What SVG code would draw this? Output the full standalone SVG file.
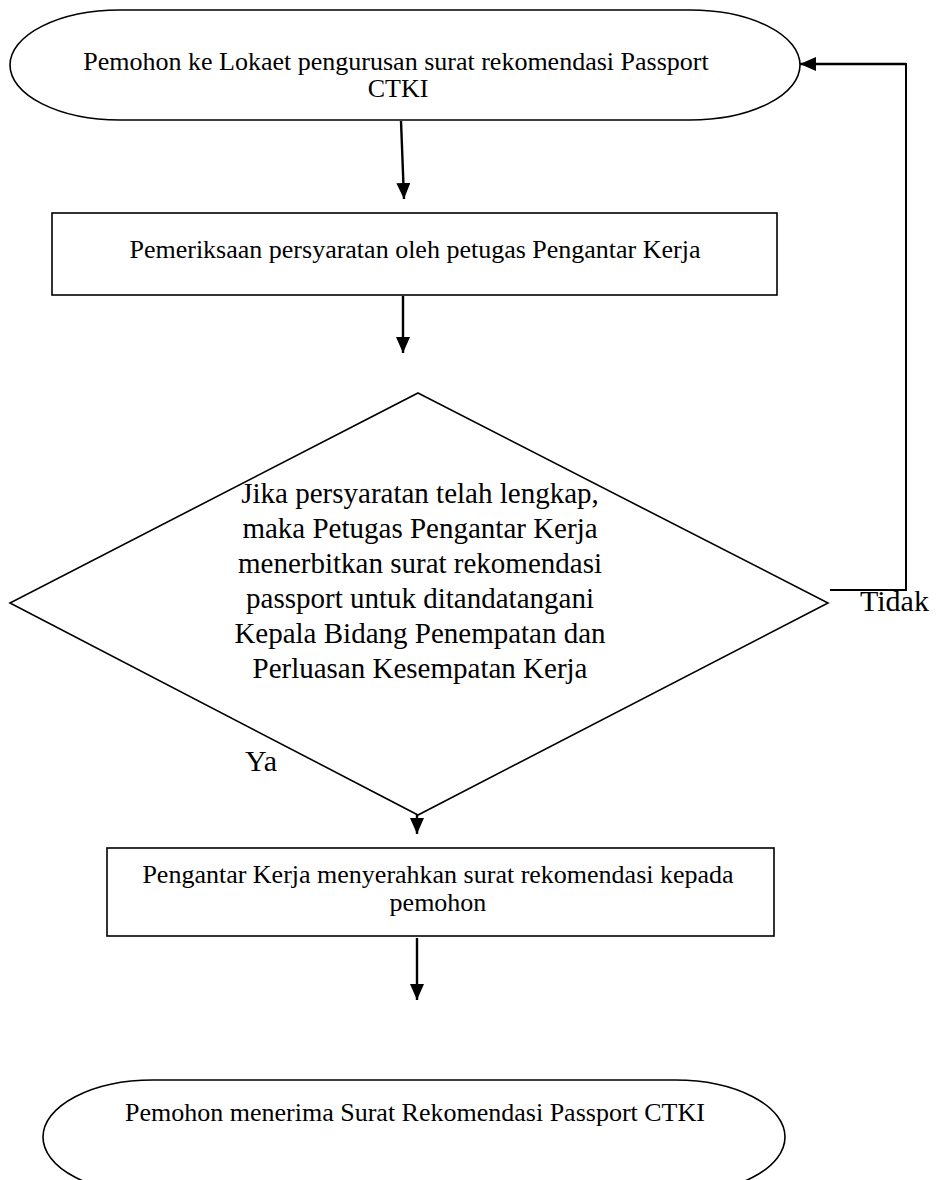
<svg xmlns="http://www.w3.org/2000/svg" width="946" height="1180" viewBox="0 0 946 1180">
  <style>
    .shape { fill: #ffffff; stroke: #000000; stroke-width: 1.6; }
    .flow { fill: none; stroke: #000000; stroke-width: 2.4; }
    .plain { fill: none; stroke: #000000; stroke-width: 2; }
    .t { font-family: "Liberation Serif", "Times New Roman", serif; fill: #000000; text-anchor: middle; }
    .box { font-size: 26px; }
    .big { font-size: 29px; }
    .lbl { font-family: "Liberation Serif", "Times New Roman", serif; fill: #000000; font-size: 30px; }
  </style>
  <defs>
    <marker id="head" viewBox="0 0 16 14" refX="16" refY="7" markerWidth="16" markerHeight="14" markerUnits="userSpaceOnUse" orient="auto">
      <path d="M0,0 L16,7 L0,14 Z" fill="#000000"/>
    </marker>
  </defs>

  <rect width="946" height="1180" fill="#ffffff"/>

  <!-- connectors -->
  <g id="connectors">
    <line class="flow" x1="401" y1="121" x2="404" y2="199" marker-end="url(#head)"/>
    <line class="flow" x1="403" y1="296" x2="403" y2="353" marker-end="url(#head)"/>
    <polyline class="plain" points="830,590 906,590 906,64 860,64"/>
    <line class="flow" x1="906" y1="64" x2="800" y2="64" marker-end="url(#head)"/>
    <line class="flow" x1="417" y1="783" x2="417" y2="834" marker-end="url(#head)"/>
    <line class="flow" x1="417" y1="938" x2="417" y2="1000" marker-end="url(#head)"/>
    <text class="lbl" x="860" y="611">Tidak</text>
    <text class="lbl" x="245" y="771">Ya</text>
  </g>

  <!-- start terminator -->
  <g id="start">
    <rect class="shape" x="10" y="10" width="790" height="110" rx="110" ry="55"/>
    <text class="t box" x="396" y="70">Pemohon ke Lokaet pengurusan surat rekomendasi Passport</text>
    <text class="t box" x="398" y="97">CTKI</text>
  </g>

  <!-- requirement check -->
  <g id="check">
    <rect class="shape" x="52" y="213" width="725" height="82"/>
    <text class="t box" x="415" y="258">Pemeriksaan persyaratan oleh petugas Pengantar Kerja</text>
  </g>

  <!-- decision -->
  <g id="decision">
    <polygon class="shape" points="418,393 828,603 418,815 10,603"/>
    <text class="t big" x="420" y="503">Jika persyaratan telah lengkap,</text>
    <text class="t big" x="420" y="538">maka Petugas Pengantar Kerja</text>
    <text class="t big" x="420" y="573">menerbitkan surat rekomendasi</text>
    <text class="t big" x="420" y="608">passport untuk ditandatangani</text>
    <text class="t big" x="420" y="643">Kepala Bidang Penempatan dan</text>
    <text class="t big" x="420" y="678">Perluasan Kesempatan Kerja</text>
  </g>

  <!-- hand-over -->
  <g id="handover">
    <rect class="shape" x="107" y="848" width="667" height="88"/>
    <text class="t box" x="438" y="883">Pengantar Kerja menyerahkan surat rekomendasi kepada</text>
    <text class="t box" x="438" y="911">pemohon</text>
  </g>

  <!-- end terminator -->
  <g id="end">
    <rect class="shape" x="43" y="1080" width="742" height="114" rx="110" ry="57"/>
    <text class="t box" x="415" y="1121">Pemohon menerima Surat Rekomendasi Passport CTKI</text>
  </g>
</svg>
